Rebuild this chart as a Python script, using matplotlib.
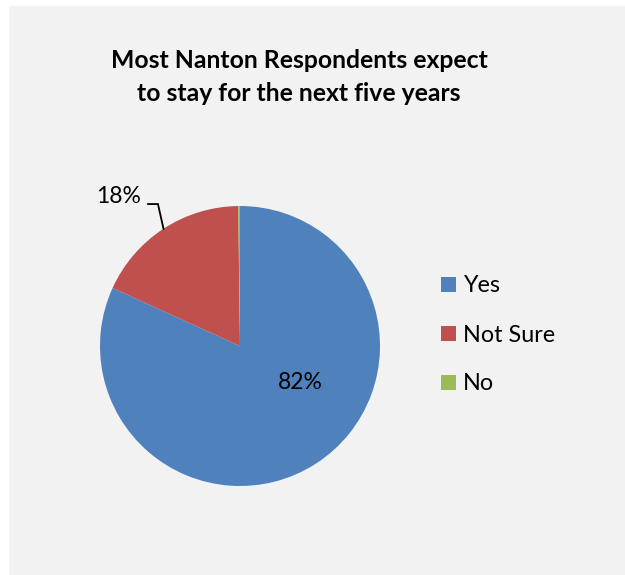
import matplotlib as mpl
mpl.use('Agg')
import matplotlib.pyplot as plt
from matplotlib.patches import Rectangle
import numpy as np

categories = ["Yes", "Not Sure", "No"]
values = [81.8, 18.0, 0.2]
pct_labels = ["82%", "18%", ""]
colors = ["#4f81bd", "#c0504d", "#9bbb59"]
title = "Most Nanton Respondents expect\nto stay for the next five years"

plt.rcParams['font.family'] = ['Lato', 'DejaVu Sans']

W, H = 625, 575
fig = plt.figure(figsize=(W / 100, H / 100), dpi=100)
fig.patch.set_facecolor("white")
# grey chart area
fig.patches.append(Rectangle((9 / W, 0), (W - 9) / W, (H - 6) / H,
                             transform=fig.transFigure, facecolor="#f2f2f2",
                             edgecolor="none", zorder=-5))

cx, cy, r = 240, 346, 140
ax = fig.add_axes([(cx - r) / W, (H - cy - r) / H, 2 * r / W, 2 * r / H])
ax.set_zorder(2)
wedges, _ = ax.pie(values, colors=colors, startangle=90, counterclock=False,
                   radius=1, wedgeprops=dict(linewidth=0))
ax.set_xlim(-1, 1)
ax.set_ylim(-1, 1)
ax.set_aspect("equal")
ax.axis("off")

# 82% label inside
ax.text(0.43, -0.26, pct_labels[0], ha="center", va="center", fontsize=16.5)

# 18% label with leader line
w = wedges[1]
mid = np.deg2rad((w.theta1 + w.theta2) / 2)
px, py = np.cos(mid), np.sin(mid)
ax.plot([px, -0.586, -0.657], [py, 1.014, 1.014], color="black", lw=1.3,
        clip_on=False, solid_joinstyle="miter")
ax.text(-0.71, 1.07, pct_labels[1], ha="right", va="center", fontsize=16.5)

fig.text(299 / W, 1 - 77 / H, title, ha="center", va="center",
         fontsize=17.8, fontweight="bold", linespacing=1.55)

handles = [Rectangle((0, 0), 1, 1, facecolor=c) for c in colors]
fig.legend(handles, categories, loc="center left",
           bbox_to_anchor=(420 / W, 1 - 335 / H), frameon=False,
           fontsize=16.8, handlelength=0.65, handleheight=0.65,
           handletextpad=0.3, labelspacing=1.2)

fig.savefig("out.png", dpi=100)
